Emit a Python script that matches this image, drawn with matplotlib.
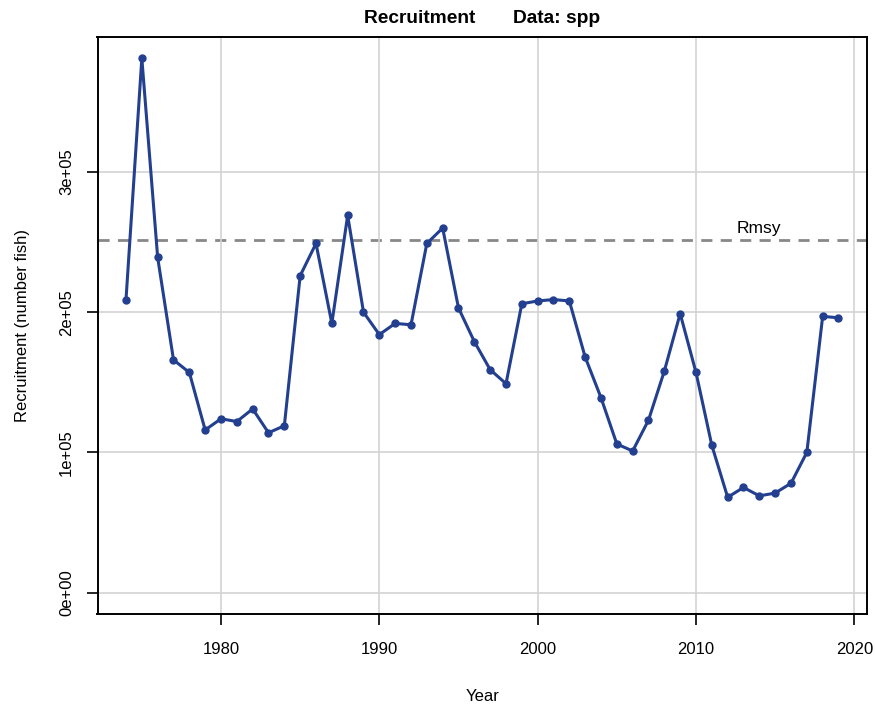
import matplotlib
matplotlib.use("Agg")
import matplotlib.pyplot as plt
import numpy as np

plt.rcParams['font.family'] = ['Liberation Sans', 'DejaVu Sans']

years = list(range(1974, 2020))
recruitment = [209e3, 381e3, 239e3, 166e3, 157e3, 116e3, 124e3, 122e3, 131e3, 114e3,
               119e3, 226e3, 249e3, 192e3, 269e3, 200e3, 184e3, 192e3, 191e3, 249e3,
               260e3, 203e3, 179e3, 159e3, 149e3, 206e3, 208e3, 209e3, 208e3, 168e3,
               139e3, 106e3, 101e3, 123e3, 158e3, 199e3, 157e3, 105e3, 68e3, 75e3,
               69e3, 71e3, 78e3, 100e3, 197e3, 196e3]
rmsy = 251.5e3
xticks = [1980, 1990, 2000, 2010, 2020]
yticks = [0, 1e5, 2e5, 3e5]
ytick_labels = ["0e+00", "1e+05", "2e+05", "3e+05"]

fig = plt.figure(figsize=(8.75, 7.06), dpi=100)
ax = fig.add_axes([97.5/875, 1-614/706, (867-97.5)/875, (614-37)/706])

ax.grid(True, color='#d3d3d3', linewidth=1.2, zorder=0)
ax.axhline(rmsy, color='#888888', linestyle=(0, (4, 3)), linewidth=2, zorder=1)
ax.text(2014.0, rmsy + 2.5e3, "Rmsy", ha='center', va='bottom', fontsize=12.5)
ax.plot(years, recruitment, color='#233f8f', linewidth=2.2, marker='o', markersize=5, zorder=3)

xr = years[-1] - years[0]
ax.set_xlim(years[0] - 0.04 * xr, years[-1] + 0.04 * xr)
ymax = max(recruitment)
ax.set_ylim(-0.04 * ymax, ymax * 1.04)

ax.set_xticks(xticks)
ax.set_xticklabels([str(x) for x in xticks], fontsize=12)
ax.set_yticks(yticks)
ax.set_yticklabels(ytick_labels, fontsize=12, rotation=90, va='center')
ax.tick_params(axis='x', length=8, width=1.2, pad=12)
ax.tick_params(axis='y', length=8, width=1.2, pad=9)
for s in ax.spines.values():
    s.set_linewidth(1.4)

ax.set_xlabel("Year", fontsize=12, labelpad=23)
ax.set_ylabel("Recruitment (number fish)", fontsize=12, labelpad=21)
ax.set_title("Recruitment       Data: spp", fontsize=13.8, fontweight='bold', pad=10)

fig.savefig("out.png", dpi=100)
